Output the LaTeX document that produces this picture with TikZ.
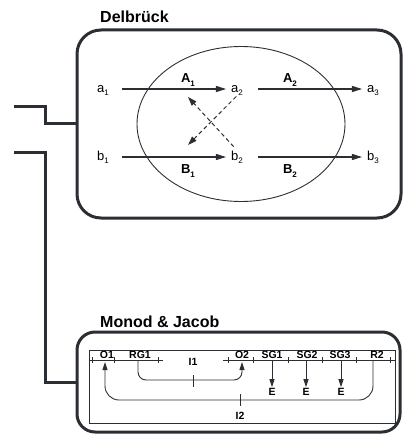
\documentclass[tikz,border=0pt]{standalone}
\usepackage{fontspec}
\setmainfont{Liberation Sans}
\usetikzlibrary{arrows.meta,shapes.geometric}
\definecolor{ink}{HTML}{2B2E33}
\newcommand\lowidx[1]{\raisebox{-0.5ex}{\fontsize{8}{8}\selectfont #1}}
\tikzset{
  frame/.style={draw=ink, line width=3pt, rounded corners=#1, inner sep=0pt},
  wire/.style={draw=ink, line width=3pt},
  lbl/.style={font=\fontsize{13}{13}\selectfont, text height=9pt, text depth=2pt, inner sep=1pt},
  rxn/.style={font=\fontsize{13}{13}\selectfont\bfseries, inner sep=0pt},
  title/.style={font=\fontsize{16}{16}\selectfont\bfseries, inner sep=0pt, anchor=base west},
  arr/.style={draw=ink, line width=1.1pt, -{Triangle[length=10pt,width=6pt]}},
  darr/.style={draw=ink, line width=1pt, dash pattern=on 4pt off 3pt, -{Triangle[length=9pt,width=6pt]}},
  gene/.style={font=\fontsize{10.5}{10.5}\selectfont\bfseries, inner sep=0pt, anchor=base},
  thinl/.style={draw=ink, line width=0.9pt},
  sarr/.style={draw=ink, line width=0.9pt, -{Triangle[length=8pt,width=5pt]}},
}
\begin{document}
\begin{tikzpicture}[x=1pt,y=-1pt]
\useasboundingbox (0,0) rectangle (403,435);

% ---------- Delbrück ----------
\node[title] (tdel) at (100,23) {Delbrück};
\node[frame=24pt, minimum width=324pt, minimum height=188pt] (delb) at (239,124) {};
\node[draw=ink, line width=0.9pt, ellipse, minimum width=208pt, minimum height=155pt] (cell) at (241,124) {};

\node[lbl] (a1) at (103,89) {a\lowidx{1}};
\node[lbl] (a2) at (237,89) {a\lowidx{2}};
\node[lbl] (a3) at (373,89) {a\lowidx{3}};
\node[lbl] (b1) at (103,157) {b\lowidx{1}};
\node[lbl] (b2) at (237,157) {b\lowidx{2}};
\node[lbl] (b3) at (373,157) {b\lowidx{3}};

\draw[arr, shorten <=12pt, shorten >=4pt] (a1) -- (a2);
\draw[arr, shorten <=14pt, shorten >=4pt] (a2) -- (a3);
\draw[arr, shorten <=12pt, shorten >=4pt] (b1) -- (b2);
\draw[arr, shorten <=14pt, shorten >=4pt] (b2) -- (b3);

\node[rxn] (A1) at (188,80) {A\lowidx{1}};
\node[rxn] (A2) at (290,80) {A\lowidx{2}};
\node[rxn] (B1) at (188,171) {B\lowidx{1}};
\node[rxn] (B2) at (290,171) {B\lowidx{2}};

\coordinate (da) at (188,145);
\coordinate (db) at (188,97);
\draw[darr, shorten <=1pt] (a2.south) -- (da);
\draw[darr, shorten <=5pt] (b2.north) -- (db);

% ---------- input wires ----------
\coordinate (in1) at (14,107);
\coordinate (in2) at (14,153);
\coordinate (k1) at (45,107);
\coordinate (k2) at (45,153);

% ---------- Monod & Jacob ----------
\node[title] (tmj) at (100,327) {Monod \& Jacob};
\node[frame=18pt, minimum width=323pt, minimum height=100pt] (mj) at (238.5,382) {};
\node[draw=ink, line width=0.9pt, minimum width=306pt, minimum height=73pt, inner sep=0pt] (genome) at (242,386.5) {};

\draw[wire] (in1) -- (k1) |- (delb.west);
\draw[wire] (in2) -- (k2) |- (mj.west);

% chromosome line with gene boundaries
\draw[thinl] (genome.west |- 0,360) -- (163,360);
\draw[thinl] (223,360) -- (genome.east |- 0,360);
\foreach \t in {92,114,158,228,253,288,322,356,390}
  \draw[thinl] (\t,357) -- (\t,363);

\node[gene] (o1)  at (107,358) {O1};
\node[gene] (rg1) at (140,358) {RG1};
\node[gene] (o2)  at (242,358) {O2};
\node[gene] (sg1) at (272,358) {SG1};
\node[gene] (sg2) at (307,358) {SG2};
\node[gene] (sg3) at (340,358) {SG3};
\node[gene] (r2)  at (377,358) {R2};

\coordinate (o1p) at (105,362);
\coordinate (rg1p) at (138,360);
\coordinate (o2p) at (242,362);
\coordinate (r2p) at (373,360);

% repressor I1: RG1 -> O2
\draw[sarr, rounded corners=8pt] (rg1p) -- (rg1p |- 0,380) -- (o2p |- 0,380) -- (o2p);
\node[gene, anchor=center] (i1) at (193,362) {I1};
\draw[thinl] (193,375) -- (193,387);

% repressor I2: R2 -> O1
\draw[sarr, rounded corners=14pt] (r2p) -- (r2p |- 0,400) -- (o1p |- 0,400) -- (o1p);
\draw[thinl] (240,394) -- (240,406);
\node[gene, anchor=center] (i2) at (240,416) {I2};

% structural genes -> enzymes
\node[gene, anchor=center] (e1) at (272,392) {E};
\node[gene, anchor=center] (e2) at (306,392) {E};
\node[gene, anchor=center] (e3) at (341,392) {E};
\coordinate (s1) at (272,360);
\coordinate (s2) at (306,360);
\coordinate (s3) at (341,360);
\draw[sarr, shorten >=1pt] (s1) -- (e1.north);
\draw[sarr, shorten >=1pt] (s2) -- (e2.north);
\draw[sarr, shorten >=1pt] (s3) -- (e3.north);
\end{tikzpicture}
\end{document}
